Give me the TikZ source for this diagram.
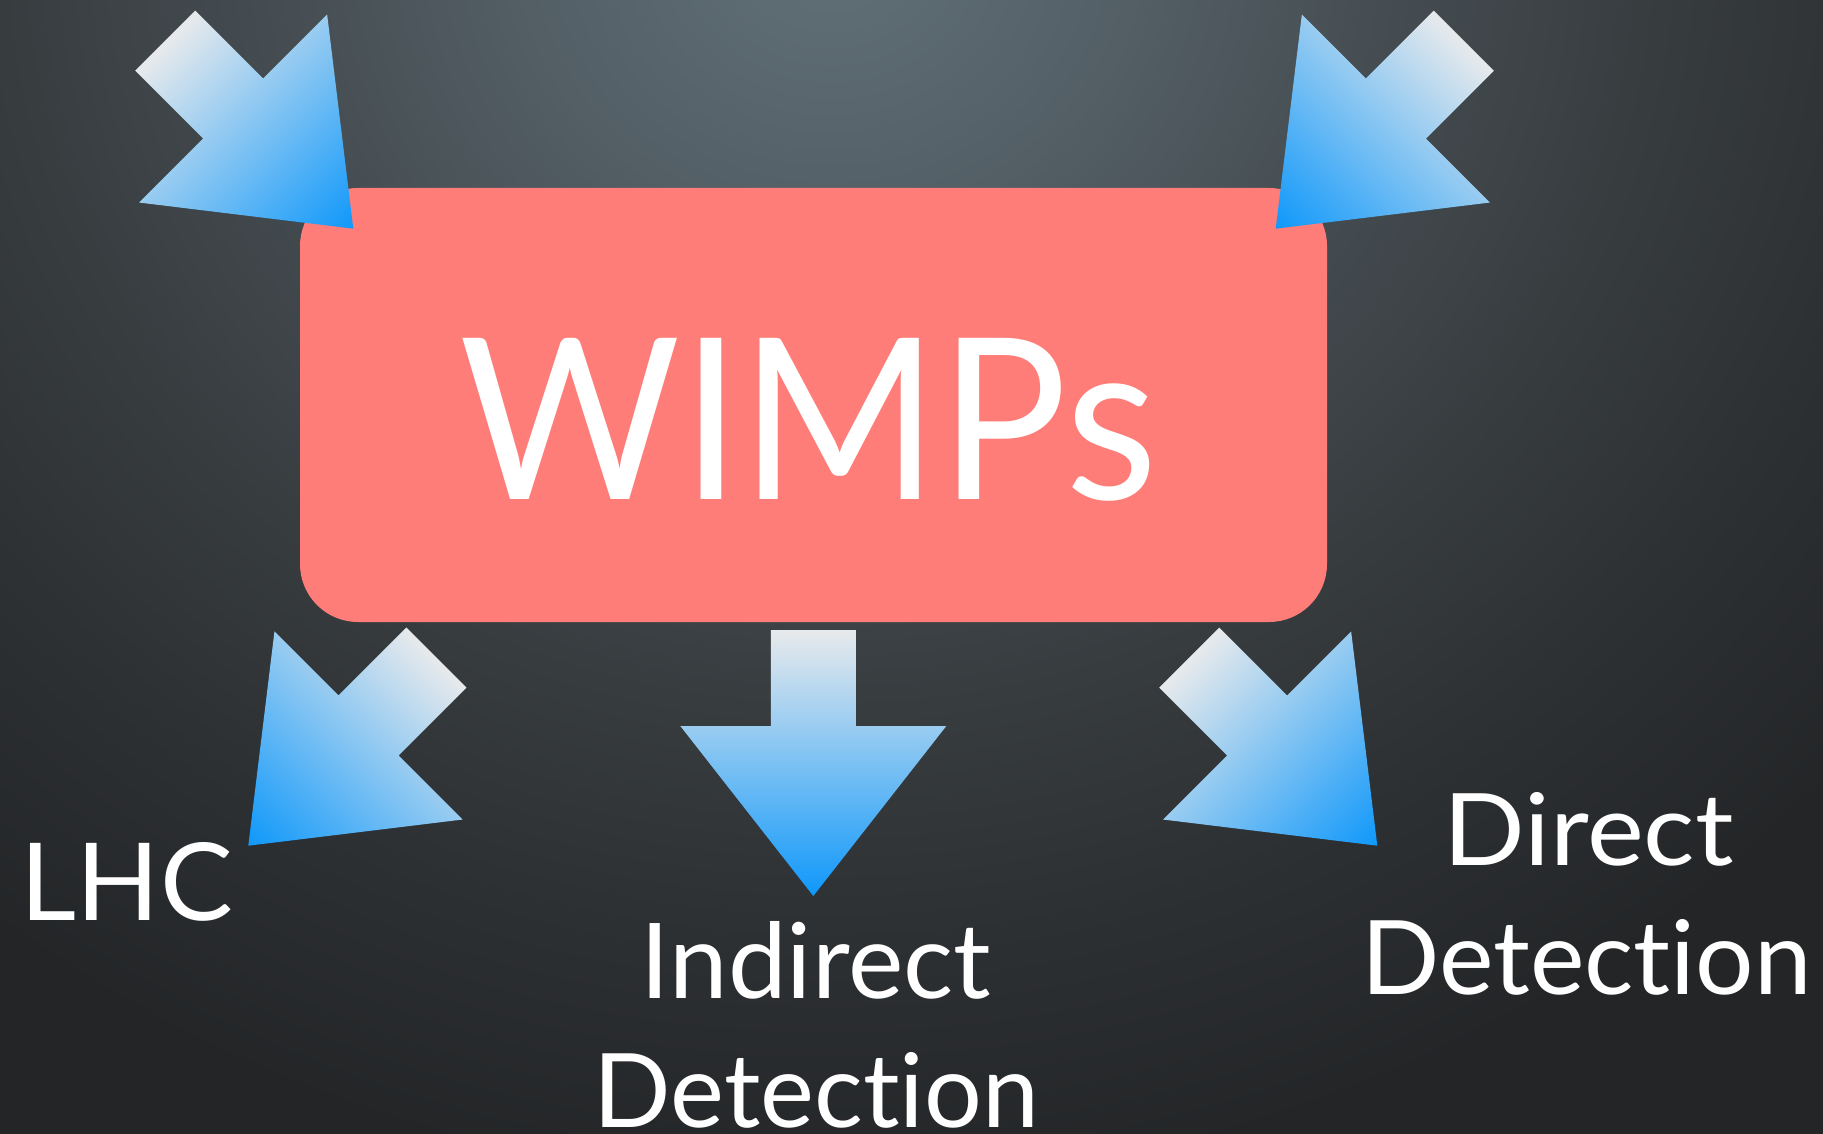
\documentclass[tikz,border=0pt]{standalone}
\usepackage{fontspec}
\setmainfont{Lato}[Ligatures={NoCommon,NoContextual}]
\usepackage{graphicx}
\definecolor{bgA}{HTML}{617077}
\definecolor{bgB}{HTML}{556168}
\definecolor{bgC}{HTML}{464E53}
\definecolor{bgE}{HTML}{383D40}
\definecolor{bgF}{HTML}{2D3033}
\definecolor{bgD}{HTML}{232527}
\definecolor{boxred}{HTML}{FF7D78}
\definecolor{arrlight}{HTML}{E8EAEC}
\definecolor{arrblue}{HTML}{0F98FA}
\pgfdeclareradialshading{bgshade}{\pgfpointorigin}{color(0bp)=(bgA); color(10bp)=(bgB); color(20bp)=(bgC); color(30bp)=(bgE); color(40bp)=(bgF); color(50bp)=(bgD)}
\tikzset{
  blockarrow/.style={top color=arrlight, bottom color=arrblue, draw=none},
  pics/blockarr/.style={code={
    \shade[blockarrow] (-42.5,-266) -- (42.5,-266) -- (42.5,-170) -- (133,-170)
      -- (0,0) -- (-133,-170) -- (-42.5,-170) -- cycle;}},
  wimpbox/.style={fill=boxred, draw=none, rounded corners=58pt,
    minimum width=1027pt, minimum height=434pt, inner sep=0pt},
  lbl/.style={text=white, inner sep=0pt, anchor=base}
}
\begin{document}
\begin{tikzpicture}[x=1pt,y=-1pt]
\useasboundingbox (0,0) rectangle (1823,1134);
\fill[bgD] (0,0) rectangle (1823,1134);
\begin{scope}
  \clip (0,0) rectangle (1823,1134);
  \begin{scope}[transform canvas={shift={(830,-60)}, xscale=27, yscale=25}]
    \pgfuseshading{bgshade}
  \end{scope}
\end{scope}

% central box
\node[wimpbox] (box) at (813.5,405) {};
\node[lbl] (wimps) at (808.5,499) {\resizebox{697pt}{161pt}{WIMPs}};

% arrow tips
\coordinate (a1) at (353.3,228.7);
\coordinate (a2) at (1275.7,228.7);
\coordinate (a3) at (248.3,845.7);
\coordinate (a4) at (813.3,896);
\coordinate (a5) at (1377.3,845.7);

\begin{scope}[transform canvas={shift={(a1)},rotate=45}]
  \pic {blockarr};
\end{scope}
\begin{scope}[transform canvas={shift={(a2)},rotate=-45}]
  \pic {blockarr};
\end{scope}
\begin{scope}[transform canvas={shift={(a3)},rotate=-45}]
  \pic {blockarr};
\end{scope}
\begin{scope}[transform canvas={shift={(a4)}}]
  \pic {blockarr};
\end{scope}
\begin{scope}[transform canvas={shift={(a5)},rotate=45}]
  \pic {blockarr};
\end{scope}

% labels
\node[lbl] (lhc) at (127,920) {\resizebox{212pt}{78pt}{LHC}};
\node[lbl] (ind1) at (816,998) {\resizebox{350pt}{77pt}{Indirect}};
\node[lbl] (ind2) at (816.5,1127) {\resizebox{445pt}{75pt}{Detection}};
\node[lbl] (dir1) at (1588.5,865) {\resizebox{290pt}{73pt}{Direct}};
\node[lbl] (dir2) at (1586.5,994) {\resizebox{450pt}{75pt}{Detection}};
\end{tikzpicture}
\end{document}
